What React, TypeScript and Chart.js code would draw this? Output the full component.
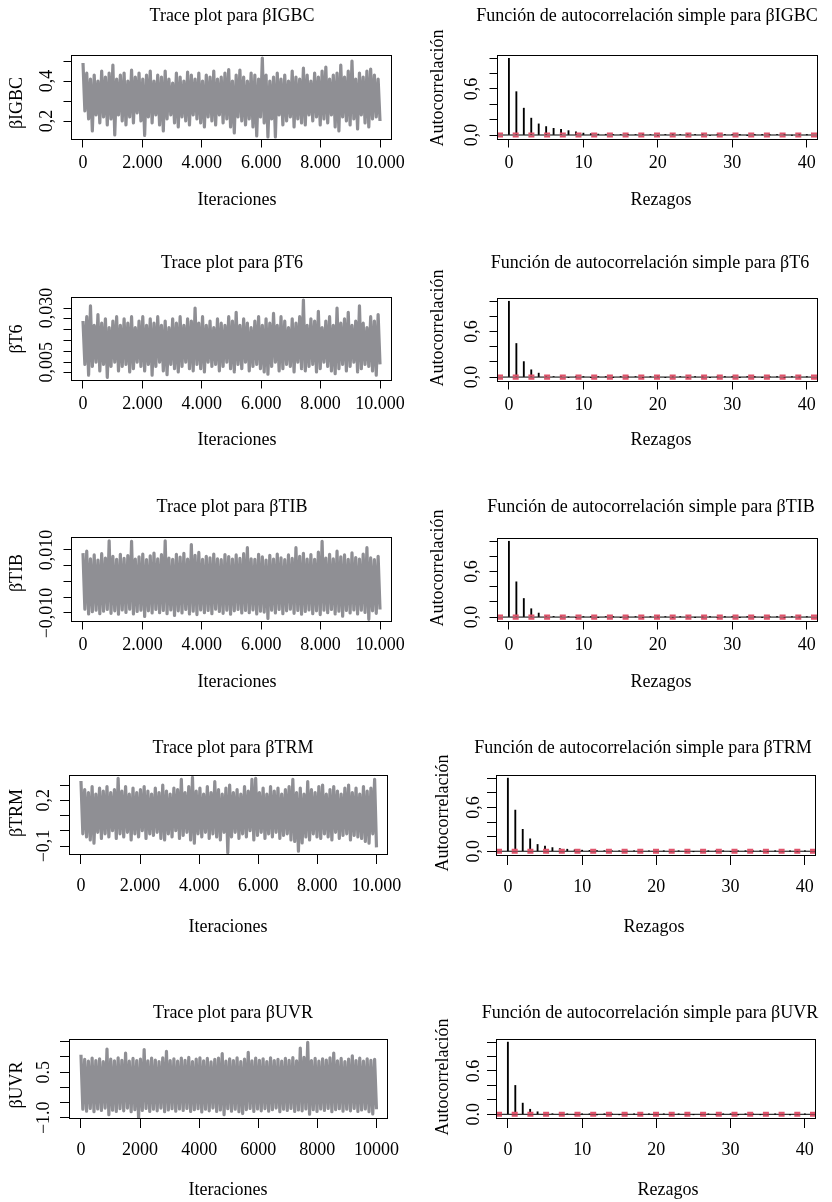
import React, { useEffect, useRef } from 'react';
import { Chart, registerables } from 'chart.js';

Chart.register(...registerables);

// ---------------- DATA ----------------
const iterTicks = [0, 2000, 4000, 6000, 8000, 10000];
const iterLabelsDot = ['0', '2.000', '4.000', '6.000', '8.000', '10.000'];
const iterLabelsPlain = ['0', '2000', '4000', '6000', '8000', '10000'];
const lagTicks = [0, 10, 20, 30, 40];
const lagLabels = ['0', '10', '20', '30', '40'];
const acfTicks = [0, 0.2, 0.4, 0.6, 0.8, 1.0];
const acfLabelsComma = ['0,0', '', '', '0,6', '', ''];
const acfLabelsDot = ['0.0', '', '', '0.6', '', ''];
const lags = [0, 1, 2, 3, 4, 5, 6, 7, 8, 9, 10, 11, 12, 13, 14, 15, 16, 17, 18, 19, 20, 21, 22, 23, 24, 25, 26, 27, 28, 29, 30, 31, 32, 33, 34, 35, 36, 37, 38, 39, 40];
const confBound = 0.0196;

const igbcTicks = [0.2, 0.3, 0.4, 0.5];
const igbcTickLabels = ['0,2', '', '0,4', ''];
const t6Ticks = [0, 0.005, 0.01, 0.015, 0.02, 0.025, 0.03];
const t6TickLabels = ['', '0,005', '', '', '', '', '0,030'];
const tibTicks = [-0.01, -0.005, 0, 0.005, 0.01];
const tibTickLabels = ['\u22120,010', '', '', '', '0,010'];
const trmTicks = [-0.1, 0, 0.1, 0.2, 0.3];
const trmTickLabels = ['\u22120,1', '', '', '0,2', ''];
const uvrTicks = [-1, -0.5, 0, 0.5, 1, 1.5];
const uvrTickLabels = ['\u22121.0', '', '', '0.5', '', ''];

// trace envelopes (local maxima / minima read along the chain, 80 blocks)
const igbcHigh = [0.49, 0.44, 0.41, 0.43, 0.40, 0.45, 0.42, 0.44, 0.48, 0.41, 0.43, 0.44, 0.40, 0.455, 0.42, 0.44, 0.41, 0.43, 0.45, 0.40, 0.43, 0.42, 0.45, 0.41, 0.39, 0.44, 0.42, 0.40, 0.445, 0.43, 0.41, 0.44, 0.40, 0.43, 0.42, 0.45, 0.41, 0.42, 0.44, 0.457, 0.40, 0.43, 0.455, 0.42, 0.40, 0.44, 0.43, 0.41, 0.515, 0.43, 0.40, 0.42, 0.44, 0.41, 0.43, 0.40, 0.45, 0.42, 0.41, 0.465, 0.43, 0.40, 0.44, 0.42, 0.45, 0.47, 0.41, 0.43, 0.44, 0.48, 0.42, 0.45, 0.50, 0.41, 0.44, 0.42, 0.45, 0.46, 0.43, 0.41];
const igbcLow = [0.25, 0.21, 0.15, 0.23, 0.19, 0.22, 0.18, 0.21, 0.13, 0.23, 0.20, 0.18, 0.22, 0.19, 0.24, 0.20, 0.128, 0.22, 0.19, 0.23, 0.18, 0.15, 0.21, 0.23, 0.19, 0.17, 0.22, 0.20, 0.18, 0.23, 0.21, 0.19, 0.17, 0.22, 0.20, 0.18, 0.23, 0.19, 0.21, 0.17, 0.14, 0.22, 0.20, 0.18, 0.21, 0.17, 0.125, 0.22, 0.19, 0.12, 0.21, 0.12, 0.23, 0.18, 0.20, 0.22, 0.17, 0.21, 0.19, 0.18, 0.23, 0.20, 0.22, 0.18, 0.21, 0.19, 0.23, 0.17, 0.15, 0.22, 0.20, 0.18, 0.21, 0.16, 0.23, 0.19, 0.17, 0.21, 0.22, 0.20];

const t6High = [0.024, 0.026, 0.031, 0.022, 0.027, 0.023, 0.025, 0.021, 0.024, 0.026, 0.022, 0.025, 0.023, 0.026, 0.021, 0.024, 0.026, 0.022, 0.025, 0.023, 0.026, 0.022, 0.024, 0.021, 0.025, 0.023, 0.026, 0.022, 0.025, 0.024, 0.030, 0.023, 0.026, 0.022, 0.024, 0.021, 0.025, 0.023, 0.022, 0.026, 0.024, 0.028, 0.022, 0.025, 0.023, 0.021, 0.024, 0.026, 0.022, 0.025, 0.023, 0.0275, 0.022, 0.026, 0.024, 0.021, 0.025, 0.023, 0.026, 0.0337, 0.022, 0.025, 0.024, 0.0285, 0.021, 0.024, 0.026, 0.022, 0.030, 0.023, 0.025, 0.028, 0.022, 0.024, 0.031, 0.023, 0.021, 0.026, 0.024, 0.027];
const t6Low = [0.004, -0.001, 0.003, 0.005, 0.001, 0.004, -0.002, 0.003, 0.005, 0.001, 0.003, 0.004, 0.0005, 0.002, 0.005, 0.003, 0.001, 0.004, -0.001, 0.003, 0.005, 0.001, -0.0008, 0.004, 0.002, 0.0005, 0.003, 0.005, 0.002, 0.001, 0.004, 0.002, 0.0005, 0.005, 0.003, 0.004, 0.001, 0.003, 0.005, 0.002, 0.0005, 0.004, 0.002, 0.005, 0.001, 0.003, 0.004, 0.002, 0.0005, -0.0005, 0.003, 0.005, 0.001, 0.002, 0.004, 0.003, 0.0005, 0.005, 0.002, 0.001, 0.003, 0.004, 0.0005, 0.002, 0.005, 0.003, 0.001, -0.0003, 0.002, 0.004, 0.001, 0.003, 0.005, 0.0005, 0.002, 0.004, 0.003, 0.001, -0.001, 0.004];

const tibHigh = [0.0090, 0.0096, 0.0072, 0.0084, 0.0068, 0.0088, 0.0074, 0.0129, 0.0080, 0.0070, 0.0086, 0.0073, 0.0082, 0.0127, 0.0071, 0.0078, 0.0087, 0.0069, 0.0081, 0.0090, 0.0072, 0.0085, 0.0129, 0.0074, 0.0070, 0.0086, 0.0077, 0.0089, 0.0071, 0.0117, 0.0083, 0.0092, 0.0070, 0.0080, 0.0075, 0.0087, 0.0072, 0.0069, 0.0085, 0.0079, 0.0071, 0.0084, 0.0073, 0.0088, 0.0107, 0.0072, 0.0070, 0.0086, 0.0078, 0.0068, 0.0083, 0.0071, 0.0087, 0.0075, 0.0069, 0.0084, 0.0073, 0.0107, 0.0080, 0.0089, 0.0071, 0.0085, 0.0070, 0.0093, 0.0127, 0.0074, 0.0086, 0.0072, 0.0096, 0.0078, 0.0084, 0.0070, 0.0091, 0.0076, 0.0071, 0.0087, 0.0107, 0.0075, 0.0069, 0.0080];
const tibLow = [-0.0088, -0.0103, -0.0096, -0.0091, -0.0102, -0.0094, -0.0089, -0.0101, -0.0093, -0.0104, -0.0090, -0.0098, -0.0088, -0.0103, -0.0095, -0.0091, -0.0111, -0.0093, -0.0100, -0.0089, -0.0099, -0.0092, -0.0102, -0.0090, -0.0108, -0.0093, -0.0100, -0.0089, -0.0103, -0.0094, -0.0105, -0.0090, -0.0099, -0.0092, -0.0102, -0.0088, -0.0095, -0.0101, -0.0091, -0.0104, -0.0093, -0.0089, -0.0100, -0.0092, -0.0099, -0.0090, -0.0103, -0.0094, -0.0097, -0.0117, -0.0091, -0.0100, -0.0089, -0.0102, -0.0093, -0.0088, -0.0101, -0.0092, -0.0104, -0.0095, -0.0090, -0.0102, -0.0093, -0.0105, -0.0091, -0.0099, -0.0089, -0.0103, -0.0094, -0.0110, -0.0092, -0.0100, -0.0090, -0.0103, -0.0091, -0.0098, -0.0120, -0.0093, -0.0101, -0.0089];

const trmHigh = [0.326, 0.27, 0.25, 0.29, 0.24, 0.28, 0.26, 0.29, 0.25, 0.27, 0.344, 0.26, 0.29, 0.24, 0.28, 0.25, 0.27, 0.29, 0.26, 0.24, 0.28, 0.25, 0.30, 0.26, 0.24, 0.28, 0.27, 0.337, 0.25, 0.29, 0.350, 0.26, 0.28, 0.24, 0.29, 0.25, 0.322, 0.27, 0.24, 0.28, 0.30, 0.25, 0.27, 0.24, 0.29, 0.26, 0.337, 0.344, 0.25, 0.28, 0.24, 0.29, 0.26, 0.28, 0.24, 0.27, 0.29, 0.337, 0.25, 0.28, 0.24, 0.322, 0.27, 0.25, 0.29, 0.30, 0.24, 0.27, 0.29, 0.26, 0.24, 0.28, 0.30, 0.25, 0.28, 0.24, 0.29, 0.26, 0.28, 0.337];
const trmLow = [-0.02, -0.04, -0.06, -0.082, -0.01, -0.05, -0.02, -0.04, 0.0, -0.05, -0.02, -0.04, -0.01, -0.06, -0.02, -0.04, 0.0, -0.05, -0.02, -0.03, -0.01, -0.05, -0.06, -0.02, -0.04, 0.0, -0.05, -0.03, -0.01, -0.06, -0.082, -0.02, -0.04, -0.01, -0.05, -0.02, -0.04, -0.06, -0.01, -0.144, -0.04, -0.01, -0.05, -0.02, -0.04, 0.0, -0.06, -0.03, -0.01, -0.05, -0.02, -0.04, -0.01, -0.05, -0.03, -0.02, -0.06, -0.07, -0.134, -0.08, -0.04, -0.06, -0.02, -0.04, -0.05, -0.02, -0.04, -0.06, -0.01, -0.05, -0.03, -0.02, -0.06, -0.03, -0.04, -0.05, -0.07, -0.082, -0.02, -0.109];

const uvrHigh = [1.07, 0.92, 0.86, 0.96, 0.88, 0.94, 0.85, 1.26, 0.93, 0.87, 0.97, 0.89, 1.13, 0.86, 0.95, 0.88, 0.93, 1.24, 0.87, 0.96, 0.90, 0.85, 0.97, 1.18, 0.88, 0.94, 0.86, 0.96, 0.89, 0.99, 0.85, 0.93, 0.97, 0.87, 0.95, 0.84, 0.92, 0.96, 1.11, 0.86, 0.94, 0.88, 0.97, 0.85, 0.93, 1.15, 0.87, 0.96, 0.89, 0.94, 0.85, 0.97, 0.88, 0.92, 0.86, 0.95, 0.89, 0.98, 0.87, 1.29, 0.99, 1.48, 0.88, 0.95, 0.86, 0.94, 0.90, 0.97, 1.13, 0.87, 0.95, 0.85, 0.93, 1.04, 0.88, 0.96, 0.86, 0.94, 0.89, 0.92];
const uvrLow = [-0.72, -0.78, -0.69, -0.80, -0.71, -0.76, -0.68, -0.90, -0.75, -0.79, -0.70, -0.77, -0.68, -0.80, -0.73, -1.01, -0.76, -0.69, -0.79, -0.72, -0.77, -0.68, -0.80, -0.74, -0.70, -0.78, -0.71, -0.76, -0.69, -0.79, -0.73, -0.70, -0.81, -0.72, -0.77, -0.68, -0.79, -0.74, -0.90, -0.70, -0.78, -0.72, -0.80, -0.86, -0.73, -0.69, -0.79, -0.71, -0.77, -0.70, -0.78, -0.73, -0.68, -0.80, -0.72, -0.76, -0.69, -0.79, -0.74, -0.77, -0.71, -0.88, -0.73, -0.79, -0.71, -0.76, -0.69, -0.80, -0.73, -0.70, -0.78, -0.72, -0.77, -0.69, -0.79, -0.74, -0.71, -0.80, -0.87, -0.72];

// autocorrelations, lags 0..40
const igbcAcf = [1, 0.565, 0.35, 0.22, 0.145, 0.11, 0.087, 0.074, 0.057, 0.043, 0.025, 0.018, 0.012, 0.010, 0.008, 0.006, 0.009, 0.005, 0.004, 0.006, -0.005, 0.004, 0.003, 0.005, 0.002, 0.004, 0.003, -0.003, 0.002, 0.004, 0.003, 0.002, -0.002, 0.003, 0.002, 0.001, 0.003, 0.002, -0.002, 0.001, 0.002];
const t6Acf = [1, 0.443, 0.204, 0.096, 0.052, 0.018, 0.008, 0.005, -0.004, 0.003, 0.002, -0.003, 0.004, 0.002, -0.002, 0.003, 0.001, 0.004, -0.002, 0.002, 0.003, -0.003, 0.002, 0.004, -0.002, 0.003, 0.002, -0.003, 0.001, 0.003, 0.002, -0.002, 0.003, 0.001, -0.002, 0.002, 0.003, -0.001, 0.002, 0.001, 0.002];
const tibAcf = [1, 0.465, 0.245, 0.11, 0.053, 0.022, 0.01, 0.006, 0.004, -0.003, 0.003, 0.002, -0.002, 0.004, 0.002, -0.003, 0.002, 0.003, -0.002, 0.002, 0.001, 0.003, -0.002, 0.002, 0.003, -0.002, 0.001, 0.002, -0.003, 0.002, 0.003, -0.002, 0.002, 0.001, -0.002, 0.003, 0.002, -0.001, 0.002, 0.001, 0.002];
const trmAcf = [1, 0.563, 0.30, 0.17, 0.093, 0.07, 0.05, 0.037, 0.028, 0.02, 0.015, 0.012, 0.01, 0.008, 0.007, 0.005, 0.006, 0.004, 0.003, 0.005, 0.003, 0.002, 0.004, 0.003, 0.002, -0.003, 0.003, 0.002, 0.004, 0.002, -0.002, 0.003, 0.002, 0.001, 0.003, -0.002, 0.002, 0.003, 0.001, -0.002, 0.002];
const uvrAcf = [1, 0.40, 0.155, 0.07, 0.035, 0.015, 0.008, 0.012, 0.006, -0.004, 0.003, 0.004, -0.003, 0.002, 0.003, -0.002, 0.004, 0.002, -0.003, 0.002, -0.004, 0.003, -0.005, 0.002, 0.003, -0.002, 0.002, 0.003, -0.002, 0.004, 0.006, -0.002, 0.002, 0.003, -0.002, 0.002, 0.001, 0.003, -0.002, 0.002, 0.001];

// ---------------- STYLE ----------------
const FAMILY = '"Liberation Serif", "Times New Roman", serif';
const FONT = { family: FAMILY, size: 18 };
const FONT_CSS = `18px ${FAMILY}`;
const TRACE_COLOR = '#8f8f94';
const CONF_COLOR = '#DF536B';

let measureCtx: CanvasRenderingContext2D | null = null;
function widestOf(labels: string[]) {
  if (!measureCtx) measureCtx = document.createElement('canvas').getContext('2d');
  measureCtx!.font = FONT_CSS;
  return Math.max(0, ...labels.map((l) => measureCtx!.measureText(l).width));
}

const decorPlugin = {
  id: 'decor',
  afterDraw(chart: any, _args: any, o: any) {
    const { ctx, chartArea: a } = chart;
    ctx.save();
    ctx.strokeStyle = '#000';
    ctx.lineWidth = 1;
    ctx.strokeRect(Math.round(a.left) + 0.5, Math.round(a.top) + 0.5, Math.round(a.right - a.left) - 1, Math.round(a.bottom - a.top) - 1);
    ctx.fillStyle = '#000';
    ctx.font = FONT_CSS;
    ctx.textAlign = 'center';
    ctx.textBaseline = 'middle';
    ctx.fillText(o.title, o.titleX, o.titleY);
    ctx.fillText(o.xlab, o.xlabX, o.xlabY);
    ctx.translate(o.ylabX, o.ylabY);
    ctx.rotate(-Math.PI / 2);
    ctx.fillText(o.ylab, 0, 0);
    ctx.restore();
  },
};

type Geom = {
  cx: number; cy: number; cw: number; ch: number;
  l: number; t: number; r: number; b: number;
  tl: number; xPad: number; yD: number;
  title: [number, number]; ylab: [number, number]; xlab: [number, number];
};

function makeScales(g: Geom, xMin: number, xMax: number, xTicks: number[], xLabels: string[], yMin: number, yMax: number, yTicks: number[], yLabels: string[]) {
  const grid = { display: true, drawOnChartArea: false, drawTicks: true, tickLength: g.tl, color: '#000', lineWidth: 1, offset: false };
  const ypad = g.yD - g.tl - widestOf(yLabels) / 2;
  return {
    x: {
      type: 'linear', min: xMin, max: xMax, offset: false, grid, border: { display: false },
      afterBuildTicks: (s: any) => { s.ticks = xTicks.map((v) => ({ value: v })); },
      afterFit: (s: any) => { s.height = g.cy + g.ch - g.b; },
      ticks: { autoSkip: false, minRotation: 0, maxRotation: 0, padding: g.xPad, font: FONT, color: '#000', callback: (_v: any, i: number) => xLabels[i] },
    },
    y: {
      type: 'linear', min: yMin, max: yMax, grid, border: { display: false },
      afterBuildTicks: (s: any) => { s.ticks = yTicks.map((v) => ({ value: v })); },
      afterFit: (s: any) => { s.width = g.l - g.cx; },
      ticks: { autoSkip: false, minRotation: 90, maxRotation: 90, crossAlign: 'center', padding: ypad, font: FONT, color: '#000', callback: (_v: any, i: number) => yLabels[i] },
    },
  };
}

function commonOptions(g: Geom, texts: { title: string; ylab: string; xlab: string }) {
  return {
    animation: false,
    responsive: false,
    events: [],
    layout: { padding: { left: 0, top: g.t - g.cy, right: g.cx + g.cw - g.r, bottom: 0 } },
    plugins: {
      legend: { display: false },
      tooltip: { enabled: false },
      decor: {
        title: texts.title, titleX: g.title[0] - g.cx, titleY: g.title[1] - g.cy,
        ylab: texts.ylab, ylabX: g.ylab[0] - g.cx, ylabY: g.ylab[1] - g.cy,
        xlab: texts.xlab, xlabX: g.xlab[0] - g.cx, xlabY: g.xlab[1] - g.cy,
      },
    },
  };
}

function zigzag(high: number[], low: number[]) {
  const n = high.length * 2;
  const step = 10000 / (n - 1);
  const pts: { x: number; y: number }[] = [];
  high.forEach((h, k) => {
    pts.push({ x: 2 * k * step, y: h });
    pts.push({ x: (2 * k + 1) * step, y: low[k] });
  });
  return pts;
}

function traceConfig(p: any) {
  const g: Geom = p.g;
  return {
    type: 'line',
    data: {
      datasets: [{
        data: zigzag(p.high, p.low), borderColor: TRACE_COLOR, borderWidth: 3.2,
        pointRadius: 0, tension: 0, fill: false, borderJoinStyle: 'round',
      }],
    },
    options: {
      ...commonOptions(g, { title: p.title, ylab: p.ylab, xlab: 'Iteraciones' }),
      scales: makeScales(g, p.xMin, p.xMax, iterTicks, p.xLabels, p.yMin, p.yMax, p.yTicks, p.yLabels),
    },
    plugins: [decorPlugin],
  };
}

function acfConfig(p: any) {
  const g: Geom = p.g;
  const xMin = -1.6, xMax = 41.5;
  const hline = (y: number) => [{ x: xMin, y }, { x: xMax, y }];
  return {
    type: 'bar',
    data: {
      datasets: [
        { type: 'line', data: hline(confBound), borderColor: CONF_COLOR, borderWidth: 2.2, borderDash: [6, 9.7], pointRadius: 0, order: 0 },
        { type: 'line', data: hline(-confBound), borderColor: CONF_COLOR, borderWidth: 2.2, borderDash: [6, 9.7], pointRadius: 0, order: 0 },
        { type: 'line', data: hline(0), borderColor: '#000', borderWidth: 1, pointRadius: 0, order: 1 },
        { type: 'bar', data: lags.map((l, i) => ({ x: l, y: p.acf[i] })), backgroundColor: '#000', borderWidth: 0, barThickness: 1.2, grouped: false, order: 2 },
      ],
    },
    options: {
      ...commonOptions(g, { title: p.title, ylab: 'Autocorrelación', xlab: 'Rezagos' }),
      scales: makeScales(g, xMin, xMax, lagTicks, lagLabels, -0.065, 1.043, acfTicks, p.yLabels),
    },
    plugins: [decorPlugin],
  };
}

// ---------------- LAYOUT ----------------
const rowA = { tl: 7.5, xPad: 5 };
const rowB = { tl: 9, xPad: 11 };

const panels: any[] = [
  { kind: 'trace', title: 'Trace plot para βIGBC', ylab: 'βIGBC', high: igbcHigh, low: igbcLow, yMin: 0.105, yMax: 0.53, yTicks: igbcTicks, yLabels: igbcTickLabels, xLabels: iterLabelsDot, xMin: -404, xMax: 10404,
    g: { cx: 0, cy: 0, cw: 416, ch: 240, l: 71, t: 55, r: 392, b: 140, ...rowA, yD: 24, title: [232, 16], ylab: [17, 103], xlab: [237, 200] } },
  { kind: 'acf', title: 'Función de autocorrelación simple para βIGBC', acf: igbcAcf, yLabels: acfLabelsComma,
    g: { cx: 416, cy: 0, cw: 416, ch: 240, l: 497, t: 55, r: 818, b: 140, ...rowA, yD: 25, title: [647, 16], ylab: [438, 88], xlab: [661, 200] } },
  { kind: 'trace', title: 'Trace plot para βT6', ylab: 'βT6', high: t6High, low: t6Low, yMin: -0.0037, yMax: 0.0351, yTicks: t6Ticks, yLabels: t6TickLabels, xLabels: iterLabelsDot, xMin: -404, xMax: 10404,
    g: { cx: 0, cy: 240, cw: 416, ch: 240, l: 71, t: 297, r: 392, b: 381, ...rowA, yD: 24, title: [232, 263], ylab: [17, 339], xlab: [237, 440] } },
  { kind: 'acf', title: 'Función de autocorrelación simple para βT6', acf: t6Acf, yLabels: acfLabelsComma,
    g: { cx: 416, cy: 240, cw: 416, ch: 240, l: 497, t: 298, r: 818, b: 382, ...rowA, yD: 25, title: [650, 263], ylab: [438, 328], xlab: [661, 440] } },
  { kind: 'trace', title: 'Trace plot para βTIB', ylab: 'βTIB', high: tibHigh, low: tibLow, yMin: -0.01286, yMax: 0.0141, yTicks: tibTicks, yLabels: tibTickLabels, xLabels: iterLabelsDot, xMin: -404, xMax: 10404,
    g: { cx: 0, cy: 480, cw: 416, ch: 240, l: 71, t: 537, r: 392, b: 622, ...rowA, yD: 24, title: [232, 507], ylab: [17, 573], xlab: [237, 682] } },
  { kind: 'acf', title: 'Función de autocorrelación simple para βTIB', acf: tibAcf, yLabels: acfLabelsComma,
    g: { cx: 416, cy: 480, cw: 416, ch: 240, l: 497, t: 538, r: 818, b: 622, ...rowA, yD: 25, title: [651, 507], ylab: [438, 568], xlab: [661, 682] } },
  { kind: 'trace', title: 'Trace plot para βTRM', ylab: 'βTRM', high: trmHigh, low: trmLow, yMin: -0.159, yMax: 0.3656, yTicks: trmTicks, yLabels: trmTickLabels, xLabels: iterLabelsDot, xMin: -405, xMax: 10390,
    g: { cx: 0, cy: 720, cw: 416, ch: 230, l: 69, t: 775, r: 388, b: 855, ...rowB, yD: 25, title: [233, 748], ylab: [17, 813], xlab: [228, 927] } },
  { kind: 'acf', title: 'Función de autocorrelación simple para βTRM', acf: trmAcf, yLabels: acfLabelsComma,
    g: { cx: 416, cy: 720, cw: 416, ch: 230, l: 496, t: 775, r: 816, b: 856, ...rowB, yD: 22, title: [643, 748], ylab: [443, 813], xlab: [654, 927] } },
  { kind: 'trace', title: 'Trace plot para βUVR', ylab: 'βUVR', high: uvrHigh, low: uvrLow, yMin: -1.04, yMax: 1.59, yTicks: uvrTicks, yLabels: uvrTickLabels, xLabels: iterLabelsPlain, xMin: -405, xMax: 10390,
    g: { cx: 0, cy: 950, cw: 416, ch: 252, l: 69, t: 1039, r: 388, b: 1119, ...rowB, yD: 25, title: [233, 1013], ylab: [17, 1085], xlab: [228, 1190] } },
  { kind: 'acf', title: 'Función de autocorrelación simple para βUVR', acf: uvrAcf, yLabels: acfLabelsDot,
    g: { cx: 416, cy: 950, cw: 416, ch: 252, l: 496, t: 1039, r: 816, b: 1119, ...rowB, yD: 22, title: [650, 1013], ylab: [443, 1077], xlab: [668, 1190] } },
];

function Panel({ p }: { p: any }) {
  const ref = useRef<HTMLCanvasElement>(null);
  useEffect(() => {
    if (!ref.current) return;
    const cfg: any = p.kind === 'trace' ? traceConfig(p) : acfConfig(p);
    const chart = new Chart(ref.current, cfg);
    return () => chart.destroy();
  }, [p]);
  const g: Geom = p.g;
  return (
    <canvas
      ref={ref}
      width={g.cw}
      height={g.ch}
      style={{ position: 'absolute', left: g.cx, top: g.cy, width: g.cw, height: g.ch, display: 'block' }}
    />
  );
}

export default function App() {
  return (
    <div style={{ position: 'absolute', left: 0, top: 0, width: 832, height: 1202, background: '#fff', overflow: 'hidden' }}>
      {panels.map((p, i) => (
        <Panel key={i} p={p} />
      ))}
    </div>
  );
}
